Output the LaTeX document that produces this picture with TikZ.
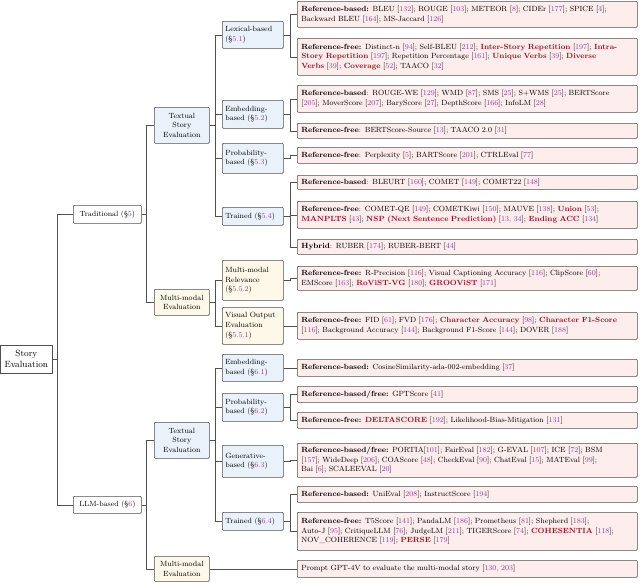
\documentclass[tikz,border=0pt]{standalone}
\usepackage{xcolor}
\definecolor{citec}{HTML}{9B3C9B}
\definecolor{redc}{HTML}{A30F1E}
\definecolor{leaff}{HTML}{FDEDED}
\definecolor{bluef}{HTML}{E9F2FB}
\definecolor{yelf}{HTML}{FDF8E7}
\definecolor{bord}{HTML}{505050}
\newcommand{\cc}[1]{[\textcolor{citec}{#1}]}
\newcommand{\rr}[1]{\textcolor{redc}{\textbf{#1}}}
\newcommand{\sect}[1]{(\S\textcolor{citec}{#1})}
\begin{document}
\begin{tikzpicture}[x=1pt,y=-1pt,
  base/.style={draw=bord,line width=0.7pt,anchor=north west,font=\fontsize{7.5}{9.6}\selectfont,inner sep=0pt,rounded corners=1pt},
  leaf/.style={base,fill=leaff,minimum width=340,text width=332,align=left,inner xsep=4pt},
  lvthree/.style={base,fill=bluef,minimum width=61,text width=55,align=left,inner xsep=3pt},
  lvthreey/.style={lvthree,fill=yelf},
  lvtwo/.style={base,fill=bluef,minimum width=55,text width=53,align=center,inner xsep=1pt},
  lvtwoy/.style={lvtwo,fill=yelf},
  lvone/.style={base,fill=white,minimum width=68,text width=66,align=center,inner xsep=1pt},
  conn/.style={draw=bord,line width=0.7pt}]
\useasboundingbox (0,0) rectangle (640,582);
% root and level 1
\node[base,minimum width=52,minimum height=28,text width=50,align=center,font=\fontsize{9}{11}\selectfont,rounded corners=0pt] (root) at (0,345) {Story\\Evaluation};
\node[lvone,minimum height=18] (trad) at (73,205) {Traditional \sect{5}};
\node[lvone,minimum height=17] (llm) at (73,496) {LLM-based \sect{6}};
% level 2
\node[lvtwo,minimum height=36] (tt) at (154,107) {Textual\\Story\\Evaluation};
\node[lvtwoy,minimum height=26] (tm) at (154,289) {Multi-modal\\Evaluation};
\node[lvtwo,minimum height=36] (lt) at (154,422) {Textual\\Story\\Evaluation};
\node[lvtwoy,minimum height=25] (lm) at (154,556) {Multi-modal\\Evaluation};
% level 3
\node[lvthree,minimum height=27] (lex) at (222,21) {Lexical-based\\\sect{5.1}};
\node[lvthree,minimum height=28] (emb) at (222,100) {Embedding-\\based \sect{5.2}};
\node[lvthree,minimum height=30] (prob) at (222,143) {Probability-\\based \sect{5.3}};
\node[lvthree,minimum height=18] (trn) at (222,207) {Trained \sect{5.4}};
\node[lvthreey,minimum height=40] (mmr) at (222,260) {Multi-modal\\Relevance\\\sect{5.5.2}};
\node[lvthreey,minimum height=37] (vis) at (222,307) {Visual Output\\Evaluation\\\sect{5.5.1}};
\node[lvthree,minimum height=27] (lemb) at (222,354) {Embedding-\\based \sect{6.1}};
\node[lvthree,minimum height=28] (lprob) at (222,393) {Probability-\\based \sect{6.2}};
\node[lvthree,minimum height=32] (lgen) at (222,445) {Generative-\\based \sect{6.3}};
\node[lvthree,minimum height=18] (ltrn) at (222,512) {Trained \sect{6.4}};
% leaves
\node[leaf,minimum height=26] (a1) at (297,1) {\textbf{Reference-based:} BLEU \cc{132}; ROUGE \cc{103}; METEOR \cc{8}; CIDEr \cc{177}; SPICE \cc{4};\\ Backward BLEU \cc{164}; MS-Jaccard \cc{126}};
\node[leaf,minimum height=37] (a2) at (297,38) {\textbf{Reference-free:} Distinct-n \cc{94}; Self-BLEU \cc{212}; \rr{Inter-Story Repetition} \cc{197}; \rr{Intra-}\\\rr{Story Repetition} \cc{197}; Repetition Percentage \cc{161}; \rr{Unique Verbs} \cc{39}; \rr{Diverse}\\\rr{Verbs} \cc{39}; \rr{Coverage} \cc{52}; TAACO \cc{32}};
\node[leaf,minimum height=27] (b1) at (297,85) {\textbf{Reference-based}: ROUGE-WE \cc{129}; WMD \cc{87}; SMS \cc{25}; S+WMS \cc{25}; BERTScore\\\cc{205}; MoverScore \cc{207}; BaryScore \cc{27}; DepthScore \cc{166}; InfoLM \cc{28}};
\node[leaf,minimum height=15] (b2) at (297,123) {\textbf{Reference-free}: BERTScore-Source \cc{13}; TAACO 2.0 \cc{31}};
\node[leaf,minimum height=16] (c1) at (297,147) {\textbf{Reference-free}: Perplexity \cc{5}; BARTScore \cc{201}; CTRLEval \cc{77}};
\node[leaf,minimum height=14] (d1) at (297,175) {\textbf{Reference-based}: BLEURT \cc{160}; COMET \cc{149}; COMET22 \cc{148}};
\node[leaf,minimum height=27] (d2) at (297,201) {\textbf{Reference-free}: COMET-QE \cc{149}; COMETKiwi \cc{150}; MAUVE \cc{138}; \rr{Union} \cc{53};\\\rr{MANPLTS} \cc{43}; \rr{NSP (Next Sentence Prediction)} \cc{13, 34}; \rr{Ending ACC} \cc{134}};
\node[leaf,minimum height=15] (d3) at (297,239) {\textbf{Hybrid}: RUBER \cc{174}; RUBER-BERT \cc{44}};
\node[leaf,minimum height=24] (e1) at (297,266) {\textbf{Reference-free:} R-Precision \cc{116}; Visual Captioning Accuracy \cc{116}; ClipScore \cc{60};\\EMScore \cc{163}; \rr{RoViST-VG} \cc{180}; \rr{GROOViST} \cc{171}};
\node[leaf,minimum height=27] (f1) at (297,312) {\textbf{Reference-free:} FID \cc{61}; FVD \cc{176}; \rr{Character Accuracy} \cc{98}; \rr{Character F1-Score}\\\cc{116}; Background Accuracy \cc{144}; Background F1-Score \cc{144}; DOVER \cc{188}};
\node[leaf,minimum height=17] (g1) at (297,359) {\textbf{Reference-based:} CosineSimilarity-ada-002-embedding \cc{37}};
\node[leaf,minimum height=16] (h1) at (297,386) {\textbf{Reference-based/free:} GPTScore \cc{41}};
\node[leaf,minimum height=16] (h2) at (297,412) {\textbf{Reference-free:} \rr{DELTASCORE} \cc{192}; Likelihood-Bias-Mitigation \cc{131}};
\node[leaf,minimum height=34] (i1) at (297,443) {\textbf{Reference-based/free:} PORTIA\cc{101}; FairEval \cc{182}; G-EVAL \cc{107}; ICE \cc{72}; BSM\\\cc{157}; WideDeep \cc{206}; COAScore \cc{48}; CheckEval \cc{90}; ChatEval \cc{15}; MATEval \cc{99};\\Bai \cc{6}; SCALEEVAL \cc{20}};
\node[leaf,minimum height=16] (j1) at (297,486) {\textbf{Reference-based:} UniEval \cc{208}; InstructScore \cc{194}};
\node[leaf,minimum height=38] (j2) at (297,512) {\textbf{Reference-free:} T5Score \cc{141}; PandaLM \cc{186}; Prometheus \cc{81}; Shepherd \cc{183};\\Auto-J \cc{95}; CritiqueLLM \cc{76}; JudgeLM \cc{211}; TIGERScore \cc{74}; \rr{COHESENTIA} \cc{118};\\NOV\_COHERENCE \cc{119}; \rr{PERSE} \cc{179}};
\node[leaf,minimum height=17] (k1) at (297,560) {Prompt GPT-4V to evaluate the multi-modal story \cc{130, 203}};
% connectors
\foreach \p/\c/\b in {root/trad/5,root/llm/5,
  trad/tt/5,trad/tm/5,llm/lt/5,llm/lm/5,
  tt/lex/6,tt/emb/6,tt/prob/6,tt/trn/6,tm/mmr/6,tm/vis/6,
  lt/lemb/6,lt/lprob/6,lt/lgen/6,lt/ltrn/6,
  lex/a1/7,lex/a2/7,emb/b1/7,emb/b2/7,prob/c1/7,trn/d1/7,trn/d2/7,trn/d3/7,
  mmr/e1/7,vis/f1/7,lemb/g1/7,lprob/h1/7,lprob/h2/7,lgen/i1/7,ltrn/j1/7,ltrn/j2/7}
  \draw[conn] (\p.east) -- ++(\b,0) |- (\c.west);
\draw[conn] (lm.east) -- (k1.west);
\end{tikzpicture}
\end{document}
